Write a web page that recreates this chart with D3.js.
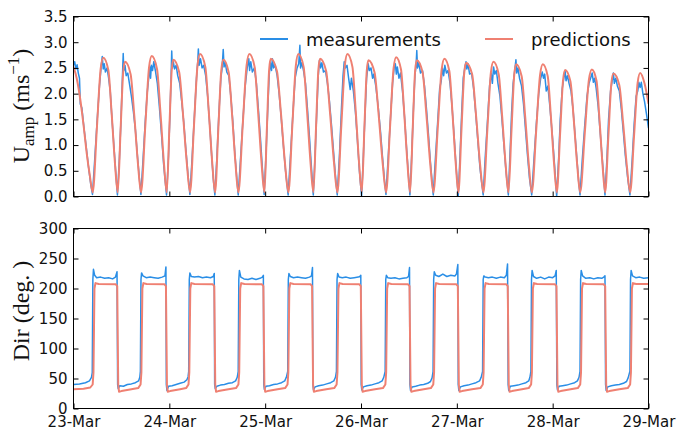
<!DOCTYPE html>
<html>
<head>
<meta charset="utf-8">
<script src="https://cdn.jsdelivr.net/npm/d3@7"></script>
<style>
  body { margin: 0; background: #fff; }
  svg { display: block; }
</style>
</head>
<body>
<div id="chart"></div>
<script>
// hours after 23-Mar 00:00
var dayLabels = ["23-Mar", "24-Mar", "25-Mar", "26-Mar", "27-Mar", "28-Mar", "29-Mar"];
var speedTicks = [0, 0.5, 1, 1.5, 2, 2.5, 3, 3.5];
var dirTicks = [0, 50, 100, 150, 200, 250, 300];

// current speed, predictions
var predSpeed = [
  [0,2.52],[0.8,2.3],[1.6,1.94],[2.5,1.4],[3.3,0.85],[4.1,0.4],[4.81,0.08],
  [5.87,1.35],[6.80,2.48],[7.46,2.70],[8.72,2.46],[9.55,1.62],[10.38,0.65],[11.07,0.08],
  [11.80,1.31],[12.44,2.41],[12.90,2.62],[14.30,2.38],[15.23,1.57],[16.15,0.63],[16.91,0.08],
  [17.98,1.37],[18.92,2.51],[19.59,2.73],[20.91,2.48],[21.77,1.64],[22.64,0.66],[23.35,0.08],
  [24.01,1.33],[24.59,2.45],[25.00,2.66],[26.46,2.42],[27.42,1.60],[28.39,0.64],[29.18,0.08],
  [30.18,1.39],[31.06,2.55],[31.69,2.77],[33.01,2.52],[33.87,1.66],[34.74,0.66],[35.45,0.08],
  [36.28,1.33],[37.01,2.45],[37.53,2.66],[38.84,2.42],[39.71,1.60],[40.57,0.64],[41.28,0.08],
  [42.38,1.39],[43.35,2.55],[44.04,2.77],[45.36,2.52],[46.22,1.66],[47.09,0.66],[47.80,0.08],
  [48.44,1.34],[49.00,2.47],[49.40,2.68],[50.94,2.44],[51.96,1.61],[52.97,0.64],[53.81,0.08],
  [54.81,1.39],[55.69,2.55],[56.31,2.77],[57.63,2.52],[58.49,1.66],[59.36,0.66],[60.07,0.08],
  [60.74,1.34],[61.33,2.47],[61.75,2.68],[63.27,2.44],[64.26,1.61],[65.26,0.64],[66.08,0.08],
  [67.08,1.39],[67.96,2.55],[68.59,2.77],[69.85,2.52],[70.68,1.66],[71.51,0.66],[72.19,0.08],
  [72.85,1.33],[73.44,2.44],[73.85,2.65],[75.40,2.41],[76.42,1.59],[77.44,0.64],[78.28,0.08],
  [79.28,1.36],[80.16,2.49],[80.79,2.71],[82.02,2.47],[82.82,1.63],[83.63,0.65],[84.29,0.08],
  [84.96,1.33],[85.55,2.44],[85.97,2.65],[87.43,2.41],[88.38,1.59],[89.34,0.64],[90.13,0.08],
  [91.23,1.34],[92.20,2.47],[92.89,2.68],[94.12,2.44],[94.92,1.61],[95.73,0.64],[96.39,0.08],
  [97.16,1.30],[97.84,2.39],[98.32,2.60],[99.84,2.37],[100.83,1.56],[101.83,0.62],[102.65,0.08],
  [103.65,1.31],[104.53,2.41],[105.16,2.62],[106.48,2.38],[107.34,1.57],[108.21,0.63],[108.92,0.08],
  [109.69,1.29],[110.37,2.36],[110.85,2.57],[112.23,2.34],[113.13,1.54],[114.03,0.62],[114.78,0.08],
  [115.88,1.29],[116.84,2.36],[117.53,2.57],[118.76,2.34],[119.57,1.54],[120.37,0.62],[121.04,0.08],
  [121.87,1.23],[122.60,2.26],[123.12,2.46],[124.44,2.24],[125.30,1.48],[126.17,0.59],[126.88,0.08],
  [128.05,1.24],[129.08,2.27],[129.81,2.47],[130.98,2.25],[131.74,1.48],[132.51,0.59],[133.14,0.08],
  [133.97,1.20],[134.70,2.20],[135.22,2.39],[136.68,2.17],[137.64,1.43],[138.61,0.57],[139.40,0.08],
  [140.40,1.20],[141.28,2.21],[141.91,2.40],[143.00,2.20],[144.00,1.80]
];

// current speed, measurements
var measSpeed = [
  [0,2.55],[0.3,2.62],[0.6,2.48],[0.9,2.56],[1.2,2.40],[1.5,2.30],[1.7,1.80],[2.1,1.72],[2.6,1.35],[3.2,0.95],[3.8,0.55],[4.3,0.25],[4.75,0.04],
  [5.3,0.7],[5.9,1.45],[6.5,2.15],[6.9,2.5],[7.2,2.72],[7.45,2.48],[7.7,2.58],[8.0,2.42],[8.4,2.50],[8.8,2.30],[9.2,2.05],[9.6,1.55],[10.1,1.0],[10.6,0.45],[11.0,0.03],
  [11.5,0.75],[11.9,1.5],[12.2,2.2],[12.45,2.78],[12.6,2.45],[12.9,2.55],[13.2,2.35],[13.6,2.40],[14.0,2.2],[14.5,1.95],[15.0,1.65],[15.5,1.3],[16.0,0.8],[16.5,0.35],[16.88,0.04],
  [17.4,0.7],[18.0,1.5],[18.5,2.05],[18.9,2.35],[19.15,2.52],[19.3,2.3],[19.5,2.55],[19.8,2.45],[20.1,2.62],[20.5,2.45],[21.0,2.2],[21.5,1.75],[22.0,1.25],[22.6,0.6],[23.3,0.03],
  [23.8,0.8],[24.2,1.7],[24.45,2.35],[24.6,2.83],[24.75,2.5],[25.0,2.62],[25.3,2.48],[25.7,2.55],[26.1,2.35],[26.6,2.2],[27.1,1.85],[27.6,1.45],[28.1,0.95],[28.7,0.4],[29.15,0.04],
  [29.7,0.75],[30.3,1.6],[30.8,2.3],[31.1,2.6],[31.27,2.87],[31.45,2.55],[31.8,2.68],[32.2,2.5],[32.6,2.55],[33.1,2.35],[33.6,1.95],[34.1,1.4],[34.6,0.8],[35.0,0.35],[35.4,0.03],
  [35.9,0.75],[36.4,1.6],[36.9,2.3],[37.2,2.48],[37.5,2.86],[37.7,2.52],[38.0,2.6],[38.4,2.42],[38.9,2.35],[39.4,1.95],[39.9,1.45],[40.4,0.85],[40.9,0.35],[41.25,0.03],
  [41.8,0.7],[42.4,1.45],[43.0,2.15],[43.5,2.5],[43.9,2.68],[44.1,2.45],[44.4,2.62],[44.8,2.42],[45.3,2.5],[45.8,2.2],[46.3,1.7],[46.8,1.15],[47.3,0.55],[47.75,0.04],
  [48.2,0.8],[48.6,1.6],[49.0,2.35],[49.3,2.6],[49.6,2.45],[49.8,2.68],[50.1,2.5],[50.5,2.55],[51.0,2.35],[51.5,2.0],[52.0,1.55],[52.5,1.05],[53.1,0.5],[53.75,0.03],
  [54.3,0.75],[54.9,1.55],[55.5,2.3],[56.0,2.5],[56.4,2.58],[56.7,2.94],[56.85,2.5],[57.2,2.6],[57.6,2.45],[58.1,2.2],[58.6,1.7],[59.1,1.15],[59.6,0.55],[60.05,0.03],
  [60.5,0.8],[60.9,1.6],[61.3,2.35],[61.6,2.65],[61.9,2.5],[62.2,2.6],[62.6,2.42],[63.1,2.45],[63.6,2.2],[64.1,1.85],[64.6,1.4],[65.1,0.9],[65.6,0.4],[66.05,0.03],
  [66.6,0.8],[67.1,1.7],[67.5,2.35],[67.8,2.62],[68.1,2.5],[68.5,2.55],[68.9,2.3],[69.3,2.08],[69.6,2.3],[70.1,2.05],[70.6,1.65],[71.1,1.1],[71.6,0.5],[72.15,0.0],
  [72.6,0.8],[73.0,1.6],[73.4,2.3],[73.8,2.58],[74.1,2.45],[74.5,2.5],[74.9,2.3],[75.2,2.38],[75.7,2.15],[76.3,1.75],[76.9,1.25],[77.4,0.75],[77.9,0.3],[78.25,0.04],
  [78.8,0.75],[79.4,1.55],[79.9,2.2],[80.3,2.5],[80.6,2.58],[80.85,2.38],[81.1,2.52],[81.5,2.3],[81.9,2.4],[82.4,2.05],[82.9,1.55],[83.4,0.95],[83.9,0.4],[84.25,0.03],
  [84.7,0.8],[85.1,1.65],[85.5,2.35],[85.8,2.55],[85.97,2.84],[86.15,2.5],[86.5,2.6],[86.9,2.4],[87.4,2.45],[87.9,2.15],[88.4,1.7],[88.9,1.2],[89.4,0.65],[90.1,0.03],
  [90.6,0.7],[91.2,1.45],[91.7,2.1],[92.1,2.25],[92.4,2.5],[92.7,2.35],[93.0,2.55],[93.4,2.4],[93.8,2.45],[94.3,2.2],[94.8,1.75],[95.3,1.2],[95.8,0.6],[96.35,0.0],
  [96.8,0.8],[97.2,1.6],[97.6,2.3],[98.0,2.5],[98.3,2.62],[98.5,2.48],[98.8,2.58],[99.2,2.38],[99.7,2.4],[100.2,2.1],[100.7,1.65],[101.2,1.15],[101.8,0.55],[102.6,0.03],
  [103.1,0.75],[103.7,1.5],[104.2,2.15],[104.6,2.4],[104.9,2.2],[105.2,2.52],[105.5,2.38],[105.9,2.45],[106.3,2.2],[106.8,1.95],[107.3,1.5],[107.8,1.0],[108.3,0.5],[108.9,0.03],
  [109.3,0.8],[109.7,1.6],[110.1,2.2],[110.5,2.45],[110.8,2.66],[111.0,2.4],[111.3,2.5],[111.7,2.3],[112.2,2.15],[112.7,1.8],[113.2,1.3],[113.7,0.8],[114.2,0.35],[114.75,0.03],
  [115.3,0.7],[115.9,1.4],[116.5,2.0],[117.0,2.3],[117.4,2.42],[117.7,2.3],[118.0,2.38],[118.4,2.05],[118.8,2.15],[119.3,1.75],[119.8,1.3],[120.3,0.8],[120.7,0.35],[121.0,0.0],
  [121.5,0.75],[121.9,1.5],[122.4,2.1],[122.8,2.3],[123.1,2.45],[123.35,2.25],[123.7,2.35],[124.1,2.2],[124.6,2.05],[125.1,1.7],[125.6,1.2],[126.1,0.7],[126.5,0.3],[126.85,0.03],
  [127.4,0.7],[128.0,1.35],[128.6,1.95],[129.1,2.2],[129.5,2.3],[129.9,2.4],[130.2,2.22],[130.5,2.3],[130.9,2.1],[131.4,1.75],[131.9,1.25],[132.4,0.75],[132.8,0.35],[133.1,0.03],
  [133.6,0.75],[134.0,1.5],[134.5,2.05],[134.9,2.25],[135.2,2.4],[135.45,2.2],[135.8,2.3],[136.2,2.15],[136.7,2.05],[137.2,1.7],[137.7,1.25],[138.2,0.8],[138.8,0.35],[139.35,0.03],
  [139.9,0.7],[140.4,1.4],[140.9,1.95],[141.3,2.05],[141.6,2.22],[141.9,2.12],[142.2,2.22],[142.6,2.0],[143.0,1.85],[143.5,1.6],[144,1.33]
];

// current direction, predictions
var predDir = [
  [0,32],[2.5,33],[4.2,35],
  [4.8,40],[5.0,60],[5.25,200],[5.5,209],[6.3,207.5],[10.6,207],[10.95,204],[11.2,40],[11.4,28],[12.0,29],[14.5,32],[16.2,34],
  [16.8,40],[17.0,60],[17.25,200],[17.5,209],[18.3,207.5],[22.8,207],[23.15,204],[23.4,40],[23.6,28],[24.2,29],[26.7,32],[28.2,34],
  [28.8,40],[29.0,60],[29.25,200],[29.5,209],[30.3,207.5],[34.9,207],[35.25,204],[35.5,40],[35.7,28],[36.3,29],[38.8,32],[40.7,34],
  [41.3,40],[41.5,60],[41.75,200],[42.0,209],[42.8,207.5],[47.2,207],[47.55,204],[47.8,40],[48.0,28],[48.6,29],[51.1,32],[53.0,34],
  [53.6,40],[53.8,60],[54.05,200],[54.3,209],[55.1,207.5],[59.4,207],[59.75,204],[60.0,40],[60.2,28],[60.8,29],[63.3,32],[65.3,34],
  [65.9,40],[66.1,60],[66.35,200],[66.6,209],[67.4,207.5],[71.6,207],[71.95,204],[72.2,40],[72.4,28],[73.0,29],[75.5,32],[77.5,34],
  [78.1,40],[78.3,60],[78.55,200],[78.8,209],[79.6,207.5],[83.8,207],[84.15,204],[84.4,40],[84.6,28],[85.2,29],[87.7,32],[89.5,34],
  [90.1,40],[90.3,60],[90.55,200],[90.8,209],[91.6,207.5],[95.9,207],[96.25,204],[96.5,40],[96.7,28],[97.3,29],[99.8,32],[101.9,34],
  [102.5,40],[102.7,60],[102.95,200],[103.2,209],[104.0,207.5],[108.4,207],[108.75,204],[109.0,40],[109.2,28],[109.8,29],[112.3,32],[114.0,34],
  [114.6,40],[114.8,60],[115.05,200],[115.3,209],[116.1,207.5],[120.6,207],[120.95,204],[121.2,40],[121.4,28],[122.0,29],[124.5,32],[126.3,34],
  [126.9,40],[127.1,60],[127.35,200],[127.6,209],[128.4,207.5],[132.8,207],[133.15,204],[133.4,40],[133.6,28],[134.2,29],[136.7,32],[138.8,34],
  [139.4,40],[139.6,60],[139.85,200],[140.1,209],[140.9,207.5],[144,207.5]
];

// current direction, measurements
var measDir = [
  [0,40],[1.5,41],[3.0,43],[4.0,46],[4.5,52],
  [4.7,60],[4.85,215],[5.0,232],[5.3,222],[5.8,218],[6.8,219],[7.8,217],[8.8,218],[9.8,216],[10.5,219],[10.9,228],
  [11.05,40],[11.2,33],[11.6,38],[12.5,37],[13.5,40],[14.5,41],[15.5,43],[16.3,46],[16.6,52],
  [16.75,62],[16.9,215],[17.05,226],[17.4,221],[18.2,218],[19.2,219],[20.2,218],[21.2,217],[22.2,219],[22.9,221],[23.15,236],
  [23.25,40],[23.4,30],[23.8,37],[24.7,38],[25.7,40],[26.7,42],[27.7,44],[28.4,48],[28.7,53],
  [28.85,62],[29.0,215],[29.15,226],[29.5,220],[30.3,219],[31.3,220],[32.3,218],[33.3,219],[34.3,218],[35.0,220],[35.25,225],
  [35.35,40],[35.5,33],[35.9,37],[36.8,39],[37.8,40],[38.8,42],[39.8,43],[40.6,46],[41.0,52],
  [41.25,62],[41.4,215],[41.55,230],[41.9,219],[42.7,216],[43.7,215],[44.7,217],[45.7,215],[46.7,217],[47.3,219],[47.55,222],
  [47.65,40],[47.8,32],[48.2,37],[49.1,38],[50.1,40],[51.1,41],[52.1,43],[52.9,46],[53.3,52],
  [53.65,62],[53.8,215],[53.95,225],[54.3,220],[55.1,218],[56.1,219],[57.1,218],[58.1,217],[59.1,219],[59.6,221],[59.85,235],
  [59.95,40],[60.1,31],[60.5,36],[61.4,38],[62.4,39],[63.4,41],[64.4,43],[65.2,46],[65.6,52],
  [65.85,62],[66.0,215],[66.15,225],[66.5,219],[67.3,218],[68.3,219],[69.3,217],[70.3,218],[71.3,219],[71.7,220],[71.95,222],
  [72.05,40],[72.2,31],[72.6,36],[73.5,38],[74.5,39],[75.5,41],[76.5,43],[77.3,46],[77.7,52],
  [78.05,62],[78.2,215],[78.35,222],[78.7,218],[79.5,217],[80.5,218],[81.5,216],[82.5,217],[83.5,218],[83.9,220],[84.15,235],
  [84.25,40],[84.4,30],[84.8,36],[85.7,37],[86.7,39],[87.7,40],[88.7,42],[89.4,45],[89.8,51],
  [90.05,62],[90.2,215],[90.35,228],[90.7,222],[91.5,220],[92.5,224],[93.5,220],[94.5,222],[95.5,221],[95.9,224],[96.25,240],
  [96.35,40],[96.5,30],[96.9,36],[97.8,38],[98.8,39],[99.8,41],[100.8,43],[101.7,46],[102.1,52],
  [102.45,62],[102.6,215],[102.75,221],[103.1,219],[103.9,218],[104.9,219],[105.9,217],[106.9,219],[107.9,218],[108.4,222],[108.7,241],
  [108.85,40],[109.0,30],[109.4,37],[110.3,38],[111.3,39],[112.3,41],[113.3,43],[114.0,46],[114.3,52],
  [114.55,62],[114.7,215],[114.85,230],[115.2,220],[116.0,217],[117.0,219],[118.0,216],[119.0,219],[120.0,218],[120.6,221],[120.9,230],
  [121.05,40],[121.2,31],[121.6,37],[122.5,38],[123.5,39],[124.5,41],[125.5,43],[126.2,46],[126.6,52],
  [126.85,62],[127.0,215],[127.15,230],[127.5,221],[128.3,217],[129.3,218],[130.3,216],[131.3,218],[132.3,217],[132.8,219],[133.1,221],
  [133.25,40],[133.4,30],[133.8,36],[134.7,38],[135.7,39],[136.7,40],[137.7,42],[138.5,45],[138.9,51],
  [139.35,62],[139.5,215],[139.65,230],[140.0,221],[140.8,218],[141.8,219],[142.8,217],[144,218]
];

var w = 691, h = 432;
var blue = "#2a8ee6", salmon = "#ef8072";
var tickFont = "'DejaVu Sans', sans-serif";
var labelFont = "'Liberation Serif', 'DejaVu Serif', serif";

var start = new Date(2017, 2, 23);
var end = new Date(2017, 2, 29);
var dayTicks = dayLabels.map(function(d, i) { return d3.timeDay.offset(start, i); });

var x = d3.scaleTime().domain([start, end]).range([73.5, 648.5]);
function hx(hr) { return x(new Date(start.getTime() + hr * 3600000)); }

var ySpeed = d3.scaleLinear().domain([0, 3.5]).range([196.5, 16.5]);
var yDir = d3.scaleLinear().domain([0, 300]).range([408.5, 228.5]);

var svg = d3.select("#chart").append("svg")
    .attr("width", w)
    .attr("height", h);

function panel(id, y, yTicks, yFmt, showDates) {
    var y0 = y.range()[1], y1 = y.range()[0];
    var left = x.range()[0], right = x.range()[1];
    var g = svg.append("g").attr("class", id);

    svg.append("clipPath").attr("id", "clip-" + id)
        .append("rect")
        .attr("x", left).attr("y", y0)
        .attr("width", right - left).attr("height", y1 - y0);

    var plot = g.append("g").attr("clip-path", "url(#clip-" + id + ")");

    // ticks point inward on all four sides
    var xb = d3.axisBottom(x).tickValues(dayTicks).tickSize(-5).tickSizeOuter(0).tickPadding(8)
        .tickFormat(function(d, i) { return showDates ? dayLabels[i] : ""; });
    var xt = d3.axisTop(x).tickValues(dayTicks).tickSize(-5).tickSizeOuter(0).tickFormat("");
    var yl = d3.axisLeft(y).tickValues(yTicks).tickSize(-5).tickSizeOuter(0).tickPadding(6).tickFormat(yFmt);
    var yr = d3.axisRight(y).tickValues(yTicks).tickSize(-5).tickSizeOuter(0).tickFormat("");

    [[xb, "translate(0," + y1 + ")"], [xt, "translate(0," + y0 + ")"],
     [yl, "translate(" + left + ",0)"], [yr, "translate(" + right + ",0)"]].forEach(function(a) {
        var ax = g.append("g").attr("transform", a[1]).call(a[0]);
        ax.select(".domain").remove();
        ax.selectAll("line").attr("stroke", "#000").attr("stroke-width", 1);
        ax.selectAll("text")
            .attr("font-family", tickFont)
            .attr("font-size", "15px")
            .attr("fill", "#111");
    });

    g.append("rect")
        .attr("x", left).attr("y", y0)
        .attr("width", right - left).attr("height", y1 - y0)
        .attr("fill", "none")
        .attr("stroke", "#000")
        .attr("stroke-width", 1);

    return plot;
}

var speedPlot = panel("speed", ySpeed, speedTicks, d3.format(".1f"), false);
var dirPlot = panel("dir", yDir, dirTicks, d3.format("d"), true);

var lineSpeedMeas = d3.line().x(function(d) { return hx(d[0]); }).y(function(d) { return ySpeed(d[1]); });
var lineSpeedPred = d3.line().curve(d3.curveMonotoneX)
    .x(function(d) { return hx(d[0]); }).y(function(d) { return ySpeed(d[1]); });
var lineDir = d3.line().x(function(d) { return hx(d[0]); }).y(function(d) { return yDir(d[1]); });

speedPlot.append("path").datum(measSpeed)
    .attr("d", lineSpeedMeas)
    .attr("fill", "none").attr("stroke", blue).attr("stroke-width", 1.5)
    .attr("stroke-linejoin", "round");
speedPlot.append("path").datum(predSpeed)
    .attr("d", lineSpeedPred)
    .attr("fill", "none").attr("stroke", salmon).attr("stroke-width", 2)
    .attr("stroke-linejoin", "round");

dirPlot.append("path").datum(measDir)
    .attr("d", lineDir)
    .attr("fill", "none").attr("stroke", blue).attr("stroke-width", 1.5)
    .attr("stroke-linejoin", "round");
dirPlot.append("path").datum(predDir)
    .attr("d", lineDir)
    .attr("fill", "none").attr("stroke", salmon).attr("stroke-width", 2)
    .attr("stroke-linejoin", "round");

// legend, no frame
var legend = svg.append("g").attr("font-family", tickFont).attr("font-size", "18px").attr("fill", "#111");
[["measurements", blue, 260], ["predictions", salmon, 485]].forEach(function(d) {
    legend.append("line")
        .attr("x1", d[2]).attr("x2", d[2] + 28)
        .attr("y1", 39).attr("y2", 39)
        .attr("stroke", d[1]).attr("stroke-width", 2);
    legend.append("text")
        .attr("x", d[2] + 46).attr("y", 46)
        .text(d[0]);
});

// axis titles
var t1 = svg.append("text")
    .attr("transform", "translate(29,106) rotate(-90)")
    .attr("text-anchor", "middle")
    .attr("font-family", labelFont)
    .attr("font-size", "24px")
    .attr("fill", "#111");
t1.append("tspan").text("U");
t1.append("tspan").attr("font-size", "17px").attr("dy", 5).text("amp");
t1.append("tspan").attr("dy", -5).text(" (ms");
t1.append("tspan").attr("font-size", "17px").attr("dy", -10).text("\u22121");
t1.append("tspan").attr("dy", 10).text(")");

svg.append("text")
    .attr("transform", "translate(29,311) rotate(-90)")
    .attr("text-anchor", "middle")
    .attr("font-family", labelFont)
    .attr("font-size", "24px")
    .attr("fill", "#111")
    .text("Dir (deg. )");
</script>
</body>
</html>
